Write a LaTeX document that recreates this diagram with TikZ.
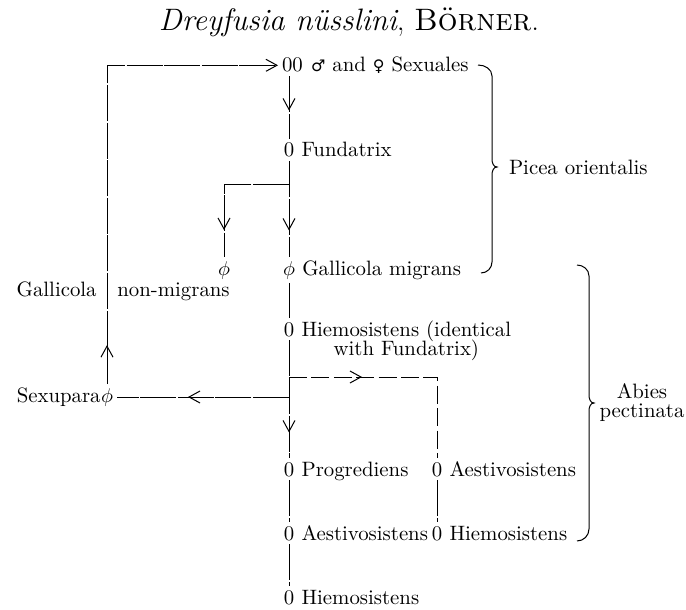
\documentclass[tikz,border=0pt]{standalone}
\usepackage{fontspec}
\newfontfamily\gendersym{DejaVu Sans}
\usetikzlibrary{arrows.meta,decorations.markings}
\tikzset{
  barb/.tip={Straight Barb[length=5.5pt,width=6pt]},
  link/.style={line width=0.5pt,dash pattern=on 18pt off 0.8pt},
  dlink/.style={line width=0.5pt,dash pattern=on 9pt off 2.2pt},
  midarrow/.style={postaction={decorate},decoration={markings,mark=at position #1 with {\arrow{barb}}}},
  gen/.style={inner sep=1pt,outer sep=1pt,anchor=base},
  lab/.style={inner sep=0pt,anchor=base west},
  every node/.style={font=\fontsize{10.4}{12.5}\selectfont}
}
\begin{document}
\begin{tikzpicture}[x=0.5pt,y=-0.5pt]
\useasboundingbox (0,0) rectangle (686,610);
\node[anchor=base,font=\fontsize{15.5}{18}\selectfont] (title) at (349,31) {\textit{Dreyfusia nüsslini}, \textsc{Börner}.};
% generations, main column
\node[gen,anchor=base west] (sex) at (278,72) {00};
\node[lab] (sexT) at ([xshift=2pt]sex.base east) {{\gendersym\footnotesize ♂} and {\gendersym\footnotesize ♀} Sexuales};
\node[gen] (fund) at (289,157) {0};
\node[lab] at ([xshift=1.5pt]fund.base east) {Fundatrix};
\coordinate (bj) at (289,185);
\node[gen] (nmig) at (224,275) {$\phi$};
\node[gen] (gmig) at (289,275) {$\phi$};
\node[lab] at ([xshift=1.5pt]gmig.base east) {Gallicola migrans};
\node[lab,anchor=base east] at (97,296) {Gallicola};
\node[lab] at (117,296) {non-migrans};
\node[gen] (hiem) at (289,336) {0};
\node[lab] (hiemT) at ([xshift=1.5pt]hiem.base east) {Hiemosistens (identical};
\node[lab,anchor=base] at ([yshift=-9.5pt]hiemT.base) {with Fundatrix)};
\coordinate (dj) at (289,377);
\node[gen] (sxp) at (107,402) {$\phi$};
\node[lab,anchor=base east] at ([xshift=2pt]sxp.base west) {Sexupara};
\node[gen] (prog) at (289,476) {0};
\node[lab] at ([xshift=1.5pt]prog.base east) {Progrediens};
\node[gen] (aest2) at (437,476) {0};
\node[lab] at ([xshift=1.5pt]aest2.base east) {Aestivosistens};
\node[gen] (aest1) at (289,540) {0};
\node[lab] at ([xshift=1.5pt]aest1.base east) {Aestivosistens};
\node[gen] (hiem2) at (437,540) {0};
\node[lab] at ([xshift=1.5pt]hiem2.base east) {Hiemosistens};
\node[gen] (hiemB) at (289,604) {0};
\node[lab] at ([xshift=1.5pt]hiemB.base east) {Hiemosistens};
% connectors
\draw[link,-barb,midarrow=19.5pt] (sxp) |- (sex);
\draw[link,midarrow=17pt] (sex.south -| fund) -- (fund);
\draw[link,midarrow=34.5pt] (fund) -- (gmig);
\draw[link,midarrow=55pt] (bj) -| (nmig);
\draw[link] (gmig) -- (hiem);
\draw[link,midarrow=46pt] (hiem) -- (prog);
\draw[link,midarrow=50.5pt] (hiem |- sxp) -- (sxp);
\draw[dlink,midarrow=36.5pt] (dj) -| (aest2);
\draw[link] (prog) -- (aest1); \draw[link] (aest1) -- (hiemB); \draw[link] (aest2) -- (hiem2);
% host plants
\draw[line width=0.5pt] (478,65) to[out=0,in=90] (492,76) -- (492,159) to[out=-90,in=180] (497,167) to[out=180,in=90] (492,175) -- (492,262) to[out=-90,in=0] (481,273);
\node[anchor=west] (picea) at (502,167) {Picea orientalis};
\draw[line width=0.5pt] (577,265) to[out=0,in=90] (589,276) -- (589,395) to[out=-90,in=180] (594,403) to[out=180,in=90] (589,411) -- (589,529) to[out=-90,in=0] (577,541);
\node[anchor=base] (abies) at (642,398) {Abies};
\node[anchor=base] at (642,417) {pectinata};
\end{tikzpicture}
\end{document}
